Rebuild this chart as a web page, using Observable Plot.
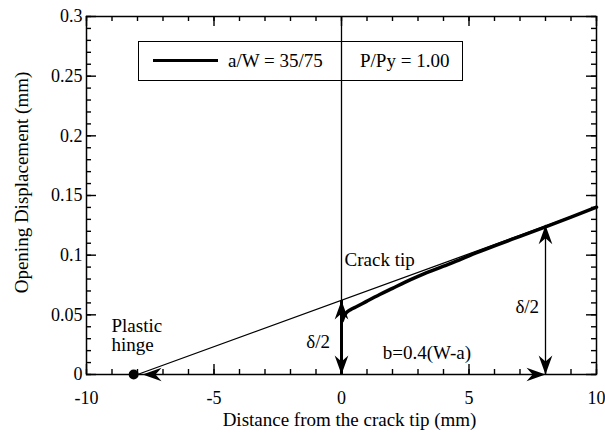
<!DOCTYPE html>
<html><head><meta charset="utf-8">
<script src="https://cdn.jsdelivr.net/npm/d3@7"></script>
<script src="https://cdn.jsdelivr.net/npm/@observablehq/plot@0.6"></script>
<style>
body{margin:0;background:#fff;}
#wrap{position:relative;width:605px;height:435px;font-family:"Liberation Serif",serif;background:#fff;}
#legend{position:absolute;left:138px;top:41px;width:325px;height:40px;box-sizing:border-box;border:1.5px solid #000;font-size:19px;color:#000;}
#legend .sw{position:absolute;left:14px;top:17px;width:65px;height:3px;background:#000;}
#legend .t{position:absolute;top:0;line-height:37px;white-space:nowrap;}
</style></head><body><div id="wrap"></div><script>
// ---- data ----
const xMajor = [-10, -5, 0, 5, 10];
const xMinor = [-10,-9,-8,-7,-6,-5,-4,-3,-2,-1,0,1,2,3,4,5,6,7,8,9,10];
const yMajor = [0, 0.05, 0.1, 0.15, 0.2, 0.25, 0.3];
const yMinor = [0,0.01,0.02,0.03,0.04,0.05,0.06,0.07,0.08,0.09,0.1,0.11,0.12,0.13,0.14,0.15,0.16,0.17,0.18,0.19,0.2,0.21,0.22,0.23,0.24,0.25,0.26,0.27,0.28,0.29,0.3];

// thin straight line (rigid rotation about plastic hinge)
const thinX = [-8, 10];
const thinY = [0, 0.14];

// thick measured profile
const thickX = [0.03, 0.1, 0.2, 0.35, 0.6, 1.0, 1.5, 2.0, 2.5, 3.0, 3.5, 4, 4.5, 5, 6, 7, 8, 9, 10];
const thickY = [0.045, 0.049, 0.052, 0.0543, 0.057, 0.0615, 0.067, 0.0722, 0.0774, 0.0822, 0.0866, 0.0908, 0.0950, 0.0995, 0.1078, 0.1158, 0.1238, 0.1318, 0.1402];

// plastic hinge
const hingeX = [-8.15];
const hingeY = [0];

// dimension arrows (shafts)
const tipShaftX = [0];
const tipShaftTop = [0.062];
const farShaftX = [8];
const farShaftTop = [0.125];

// arrowheads: position of tip and direction (degrees clockwise from up)
const arrowX = [-7.8, 8, 0, 0, 8, 8];
const arrowY = [0, 0, 0.062, 0, 0.125, 0];
const arrowDir = [270, 90, 0, 180, 0, 180];

// annotations
const startLabels = ["Crack tip", "Plastic\nhinge"];
const startX = [0.12, -9.02];
const startY = [0.0964, 0.0327];
const endLabels = ["δ/2", "δ/2"];
const endX = [-0.45, 7.75];
const endY = [0.0277, 0.057];
const midLabels = ["b=0.4(W-a)"];
const midX = [3.35];
const midY = [0.0184];

const legendItems = ["a/W = 35/75", "P/Py = 1.00"];
const xTitle = "Distance from the crack tip (mm)";
const yTitle = "Opening Displacement (mm)";

// ---- build ----
const xDom = [-10, 10], yDom = [0, 0.3];
const PW = 605, PH = 435, ML = 86, MR = 9, MT = 16, MB = 61;
const FW = PW - ML - MR, FH = PH - MT - MB;
// pixel tick lengths expressed in data units
const dy = (px) => px / FH * (yDom[1] - yDom[0]);
const dx = (px) => px / FW * (xDom[1] - xDom[0]);
const idx = (a) => a.map((_, i) => i);
const headShape = {
  draw(context, l) {
    const w = l * 0.36;
    context.moveTo(0, -l);
    context.lineTo(w, 0);
    context.lineTo(0, -l * 0.32);
    context.lineTo(-w, 0);
    context.closePath();
  }
};
const fmt = (d) => String(d);

const tickMarks = [];
for (const [vals, len] of [[xMinor, 5], [xMajor, 10]]) {
  tickMarks.push(Plot.ruleX(vals, {x: d => d, y1: yDom[0], y2: yDom[0] + dy(len), strokeWidth: 1.4}));
  tickMarks.push(Plot.ruleX(vals, {x: d => d, y1: yDom[1], y2: yDom[1] - dy(len), strokeWidth: 1.4}));
}
for (const [vals, len] of [[yMinor, 5], [yMajor, 10]]) {
  tickMarks.push(Plot.ruleY(vals, {y: d => d, x1: xDom[0], x2: xDom[0] + dx(len), strokeWidth: 1.4}));
  tickMarks.push(Plot.ruleY(vals, {y: d => d, x1: xDom[1], x2: xDom[1] - dx(len), strokeWidth: 1.4}));
}

const chart = Plot.plot({
  width: PW, height: PH,
  marginLeft: ML, marginRight: MR, marginTop: MT, marginBottom: MB,
  x: {domain: xDom},
  y: {domain: yDom},
  style: {fontFamily: "'Liberation Serif', serif", fontSize: "18px", color: "black"},
  marks: [
    Plot.ruleX([0], {strokeWidth: 1.3}),
    ...tickMarks,
    Plot.axisX({ticks: xMajor, anchor: "bottom", tickSize: 0, tickPadding: 17, tickFormat: fmt, label: null}),
    Plot.axisY({ticks: yMajor, anchor: "left", tickSize: 0, tickPadding: 4, tickFormat: fmt, label: null}),
    Plot.frame({strokeWidth: 1.5}),
    Plot.line(idx(thinX), {x: i => thinX[i], y: i => thinY[i], strokeWidth: 1.3}),
    Plot.line(idx(thickX), {x: i => thickX[i], y: i => thickY[i], strokeWidth: 3.5, curve: "monotone-x"}),
    Plot.ruleX(idx(tipShaftX), {x: i => tipShaftX[i], y1: 0, y2: i => tipShaftTop[i], strokeWidth: 3}),
    Plot.ruleX(idx(farShaftX), {x: i => farShaftX[i], y1: 0, y2: i => farShaftTop[i], strokeWidth: 1.3}),
    Plot.vector(idx(arrowX), {x: i => arrowX[i], y: i => arrowY[i], rotate: i => arrowDir[i], length: 19, anchor: "end", shape: headShape, fill: "black", stroke: "none"}),
    Plot.dot(idx(hingeX), {x: i => hingeX[i], y: i => hingeY[i], r: 5, fill: "black", stroke: "none"}),
    Plot.text(idx(startLabels), {x: i => startX[i], y: i => startY[i], text: i => startLabels[i], textAnchor: "start", fontSize: 19, lineHeight: 1.0}),
    Plot.text(idx(endLabels), {x: i => endX[i], y: i => endY[i], text: i => endLabels[i], textAnchor: "end", fontSize: 19}),
    Plot.text(idx(midLabels), {x: i => midX[i], y: i => midY[i], text: i => midLabels[i], fontSize: 19}),
    Plot.text([xTitle], {frameAnchor: "bottom", textAnchor: "middle", lineAnchor: "middle", dy: 45, dx: 8, fontSize: 19}),
    Plot.text([yTitle], {frameAnchor: "left", textAnchor: "middle", lineAnchor: "middle", rotate: -90, dx: -65, dy: -13, fontSize: 19})
  ]
});
const wrap = document.getElementById("wrap");
wrap.appendChild(chart);
const lg = document.createElement("div");
lg.id = "legend";
lg.innerHTML = `<div class="sw"></div><span class="t" style="left:89px">${legendItems[0]}</span><span class="t" style="left:221px">${legendItems[1]}</span>`;
wrap.appendChild(lg);
</script></body></html>
